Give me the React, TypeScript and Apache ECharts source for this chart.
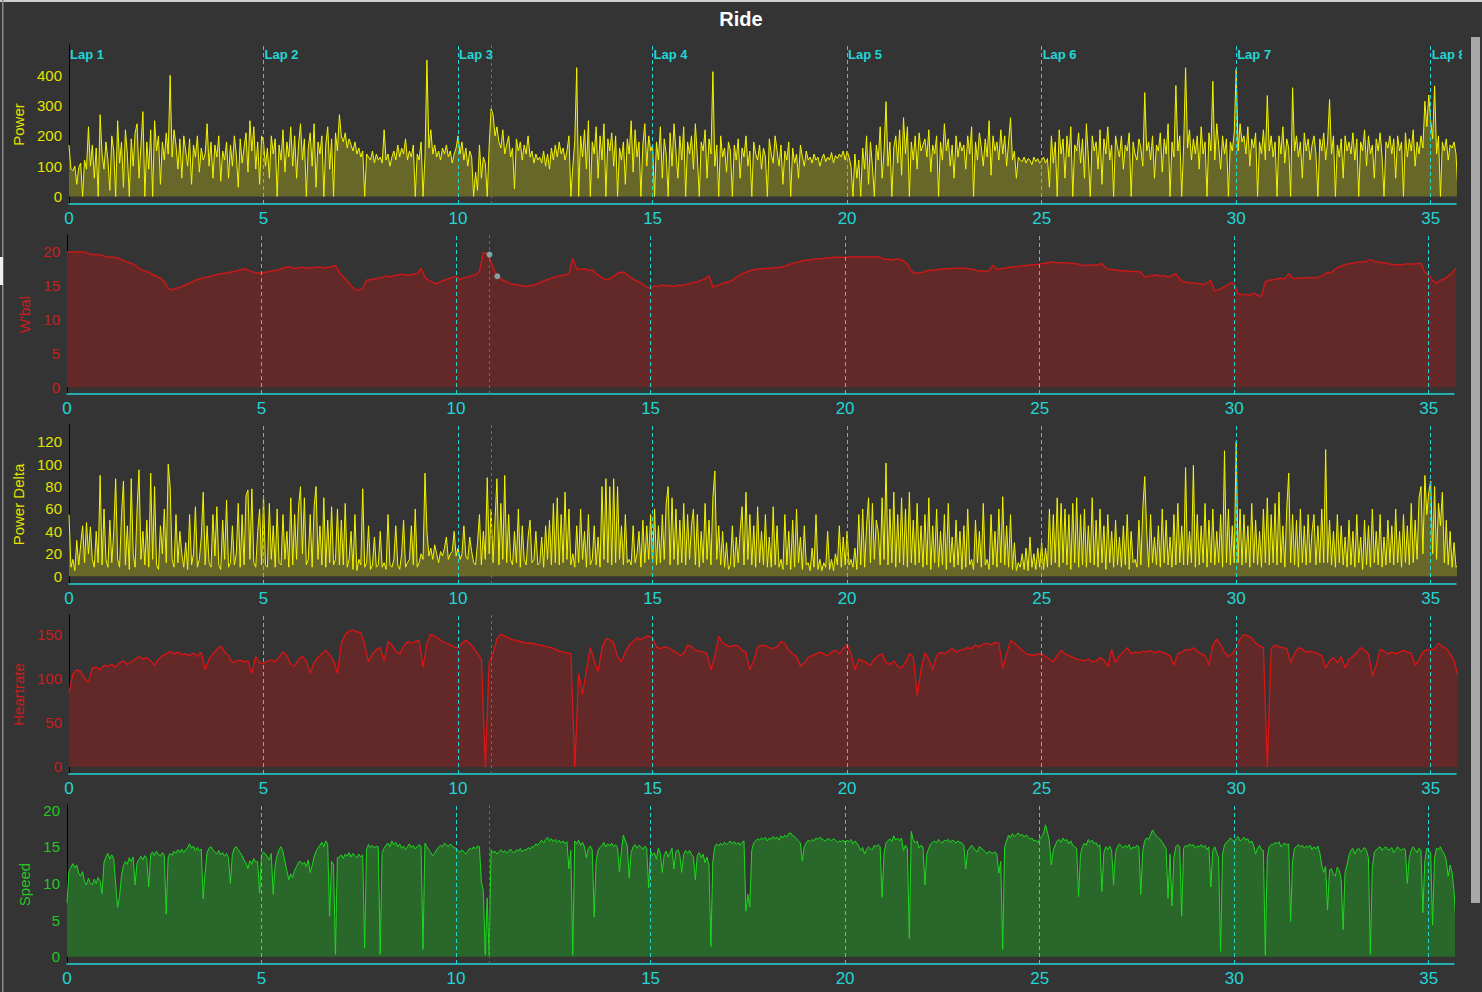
import React, { useEffect, useRef } from "react";
import * as echarts from "echarts";

// ---------- data ----------
const STEP_FINE = 0.05; // km between power / power-delta / speed samples
const STEP = 0.1; // km between W'bal / HR samples
const X_MAX = 35.65;
const X_INTERVAL = 5;
const LAPS = [0, 5, 10, 15, 20, 25, 30, 35];
const MARKER_KM = 10.86;
const WBAL_POINTS = [
  [10.86, 19.6],
  [11.06, 16.4],
];

const POWER = [
  170, 90, 85, 100, 40, 95, 110, 0, 120, 90, 230, 100, 170, 60, 160, 0, 270, 140, 90, 180,
  120, 20, 200, 150, 0, 250, 110, 180, 30, 220, 140, 0, 190, 100, 210, 240, 60, 170, 280, 0,
  180, 90, 220, 0, 250, 150, 200, 40, 180, 120, 210, 140, 400, 130, 220, 170, 90, 190, 60, 200,
  150, 100, 190, 40, 170, 130, 200, 80, 160, 120, 140, 240, 100, 180, 60, 170, 130, 200, 50, 150,
  120, 180, 60, 170, 100, 200, 140, 30, 190, 110, 160, 210, 80, 250, 150, 230, 90, 180, 40, 200,
  180, 100, 160, 60, 200, 140, 190, 0, 170, 120, 220, 80, 180, 130, 230, 100, 200, 60, 170, 240,
  120, 190, 0, 160, 210, 100, 240, 30, 180, 140, 200, 0, 170, 230, 90, 190, 0, 210, 150, 270,
  200, 180, 210, 160, 190, 170, 150, 180, 140, 160, 130, 150, 0, 140, 130, 120, 150, 110, 140, 120,
  130, 110, 220, 120, 140, 100, 130, 150, 120, 170, 130, 160, 140, 190, 120, 150, 130, 170, 0, 140,
  120, 180, 0, 130, 450, 160, 220, 140, 170, 130, 150, 120, 160, 140, 170, 130, 150, 110, 140, 160,
  200, 140, 180, 120, 160, 100, 150, 130, 0, 80, 20, 170, 60, 130, 110, 0, 170, 290, 270, 200,
  230, 180, 160, 220, 140, 170, 200, 130, 160, 25, 190, 150, 180, 120, 170, 140, 200, 130, 150, 110,
  140, 120, 130, 110, 150, 100, 140, 90, 160, 120, 170, 130, 180, 140, 160, 120, 150, 200, 0, 100,
  180, 425, 0, 200, 130, 220, 90, 250, 0, 180, 140, 230, 60, 200, 120, 240, 0, 190, 150, 210,
  100, 200, 0, 160, 120, 180, 40, 190, 140, 250, 80, 220, 130, 180, 0, 170, 240, 100, 200, 150,
  170, 0, 180, 120, 230, 60, 190, 140, 0, 210, 100, 240, 150, 60, 200, 120, 230, 0, 180, 140,
  200, 90, 240, 130, 0, 180, 150, 220, 60, 190, 140, 412, 100, 170, 0, 200, 130, 160, 80, 180,
  150, 0, 170, 120, 190, 60, 160, 130, 200, 100, 150, 0, 180, 140, 120, 170, 90, 160, 130, 0,
  190, 140, 110, 200, 150, 100, 170, 40, 150, 120, 180, 0, 160, 110, 140, 60, 170, 130, 100, 150,
  120, 130, 110, 140, 120, 130, 100, 125, 140, 115, 130, 120, 145, 110, 135, 125, 140, 130, 150, 120,
  150, 130, 100, 0, 140, 60, 120, 0, 160, 90, 200, 40, 180, 100, 0, 170, 120, 230, 60, 150,
  313, 100, 180, 0, 160, 200, 110, 220, 70, 260, 140, 230, 0, 180, 120, 200, 90, 210, 150, 170,
  190, 130, 220, 80, 170, 140, 200, 0, 180, 120, 240, 150, 190, 100, 170, 60, 200, 130, 180, 150,
  170, 90, 200, 140, 230, 0, 180, 120, 210, 160, 100, 190, 130, 250, 70, 200, 150, 180, 120, 220,
  140, 200, 100, 180, 260, 120, 150, 60, 130, 120, 115, 130, 110, 125, 120, 105, 130, 115, 125, 110,
  120, 130, 110, 125, 30, 200, 110, 180, 0, 220, 140, 190, 60, 200, 130, 230, 0, 170, 150, 210,
  110, 190, 60, 240, 130, 0, 200, 150, 180, 90, 220, 40, 190, 140, 230, 120, 170, 0, 200, 160,
  130, 200, 90, 170, 150, 210, 0, 180, 140, 120, 190, 160, 100, 343, 150, 180, 120, 200, 60, 170,
  150, 210, 80, 190, 140, 240, 0, 180, 130, 366, 150, 200, 0, 170, 425, 160, 220, 120, 190, 140,
  200, 90, 230, 140, 180, 0, 210, 150, 380, 120, 240, 170, 90, 200, 140, 190, 0, 180, 150, 210,
  420, 150, 240, 180, 200, 140, 230, 100, 190, 160, 210, 0, 180, 140, 220, 120, 333, 150, 200, 130,
  180, 0, 200, 140, 230, 110, 190, 160, 0, 359, 150, 200, 130, 180, 60, 210, 150, 190, 120, 170,
  200, 140, 0, 190, 150, 210, 120, 180, 320, 140, 200, 0, 170, 130, 190, 60, 200, 150, 180, 140,
  210, 120, 190, 0, 180, 150, 220, 100, 200, 140, 170, 60, 190, 150, 210, 130, 0, 180, 160, 200,
  140, 190, 60, 200, 150, 180, 0, 210, 130, 190, 150, 220, 100, 180, 140, 200, 160, 314, 230, 335,
  250, 190, 365, 140, 200, 0, 180, 150, 190, 120, 170, 160, 180, 140, 15,
];

const WBAL = [
  20.0, 20.0, 20.0, 20.0, 20.0, 19.9, 19.6, 19.6, 19.6, 19.5,
  19.3, 19.2, 19.2, 19.1, 18.9, 18.6, 18.4, 18.2, 17.8, 17.4,
  17.2, 17.0, 16.6, 16.4, 16.1, 15.6, 14.6, 14.4, 14.6, 14.8,
  15.0, 15.3, 15.5, 15.8, 16.0, 16.2, 16.3, 16.4, 16.6, 16.7,
  16.8, 16.9, 17.0, 17.1, 17.3, 17.4, 17.5, 17.2, 17.0, 16.9,
  16.9, 17.0, 17.1, 17.2, 17.3, 17.5, 17.7, 17.8, 17.6, 17.6,
  17.7, 17.7, 17.6, 17.7, 17.7, 17.8, 17.6, 17.7, 17.8, 18.0,
  17.0, 16.3, 15.7, 15.0, 14.5, 14.3, 14.6, 15.8, 15.9, 16.0,
  16.1, 16.2, 16.5, 16.3, 16.5, 16.6, 16.7, 16.6, 16.6, 16.7,
  16.8, 17.6, 16.2, 15.8, 15.5, 15.3, 15.6, 15.8, 16.0, 16.2,
  16.4, 15.9, 16.2, 16.3, 16.5, 16.6, 17.1, 19.9, 19.8, 18.5,
  17.0, 16.3, 15.8, 15.6, 15.3, 15.2, 15.1, 15.0, 14.9, 15.0,
  15.1, 15.3, 15.6, 15.8, 16.0, 16.2, 16.4, 16.5, 16.6, 16.8,
  19.0, 17.5, 17.4, 17.5, 17.3, 17.3, 16.8, 16.4, 16.0, 15.9,
  16.2, 16.6, 17.0, 17.0, 16.6, 16.2, 15.8, 15.6, 15.2, 14.8,
  14.6, 15.0, 14.9, 15.1, 15.0, 15.0, 14.9, 15.1, 15.0, 15.2,
  15.3, 15.5, 15.6, 15.8, 16.0, 16.5, 14.8, 15.0, 15.2, 15.4,
  15.6, 15.8, 16.2, 16.6, 16.9, 17.1, 17.3, 17.4, 17.5, 17.5,
  17.6, 17.6, 17.7, 17.7, 17.8, 18.0, 18.2, 18.4, 18.5, 18.7,
  18.8, 18.8, 18.9, 19.0, 19.0, 19.1, 19.1, 19.2, 19.2, 19.2,
  19.2, 19.2, 19.3, 19.3, 19.3, 19.2, 19.3, 19.3, 19.3, 19.2,
  18.9, 18.9, 18.8, 18.9, 18.9, 18.7, 18.2, 17.2, 16.8, 16.9,
  17.0, 17.2, 17.3, 17.3, 17.4, 17.5, 17.5, 17.5, 17.6, 17.6,
  17.6, 17.6, 17.5, 17.4, 17.2, 17.2, 17.1, 17.2, 18.0, 17.4,
  17.5, 17.6, 17.7, 17.8, 17.8, 17.9, 18.0, 18.0, 18.1, 18.1,
  18.2, 18.3, 18.4, 18.5, 18.4, 18.4, 18.4, 18.4, 18.3, 18.3,
  18.2, 18.0, 18.0, 18.1, 18.0, 18.1, 18.3, 17.6, 17.4, 17.4,
  17.3, 17.2, 17.2, 17.1, 17.1, 17.1, 17.0, 16.3, 16.4, 16.5,
  16.6, 16.4, 16.5, 16.3, 16.5, 16.8, 16.0, 15.5, 15.5, 15.4,
  15.4, 15.3, 15.2, 15.4, 15.8, 14.2, 14.4, 14.7, 15.0, 15.4,
  15.3, 13.8, 13.7, 13.7, 13.6, 13.9, 13.6, 13.4, 15.6, 15.8,
  15.9, 16.0, 16.1, 16.0, 16.8, 16.1, 16.1, 16.1, 16.2, 16.2,
  16.2, 16.2, 16.3, 16.6, 17.0, 16.9, 17.5, 17.8, 18.0, 18.2,
  18.3, 18.4, 18.5, 18.5, 18.6, 18.9, 18.6, 18.5, 18.4, 18.4,
  18.2, 18.1, 18.1, 18.1, 18.2, 18.2, 18.2, 18.3, 18.3, 17.0,
  16.6, 15.8, 15.4, 15.8, 16.0, 16.4, 16.9, 17.6,
];

const POWER_DELTA = [
  55, 8, 15, 5, 32, 10, 28, 45, 12, 48, 20, 44, 15, 8, 40, 12, 90, 10, 60, 15,
  8, 50, 12, 40, 87, 15, 8, 55, 85, 10, 45, 6, 87, 20, 8, 60, 95, 15, 40, 10,
  50, 8, 92, 15, 80, 10, 6, 45, 20, 60, 12, 100, 80, 15, 8, 55, 12, 40, 20, 8,
  30, 6, 55, 10, 20, 62, 8, 15, 35, 75, 10, 45, 12, 8, 55, 18, 62, 10, 6, 50,
  15, 68, 8, 12, 45, 10, 20, 65, 8, 55, 10, 72, 77, 15, 78, 12, 8, 40, 60, 10,
  72, 10, 8, 65, 15, 45, 8, 60, 12, 10, 55, 15, 40, 8, 70, 10, 55, 15, 62, 80,
  20, 70, 10, 15, 55, 8, 62, 80, 15, 45, 10, 70, 8, 50, 12, 62, 10, 15, 60, 10,
  50, 10, 65, 8, 15, 40, 6, 55, 5, 15, 10, 78, 8, 12, 45, 6, 10, 35, 8, 10,
  40, 8, 12, 6, 55, 10, 8, 15, 45, 10, 6, 20, 50, 8, 12, 15, 45, 10, 60, 8,
  12, 20, 15, 92, 40, 18, 25, 15, 28, 20, 12, 22, 18, 25, 35, 15, 20, 22, 40, 18,
  25, 15, 20, 45, 18, 15, 35, 22, 12, 10, 30, 55, 10, 40, 15, 88, 20, 60, 12, 50,
  87, 10, 65, 15, 90, 12, 55, 15, 10, 40, 12, 60, 8, 45, 15, 10, 35, 50, 12, 15,
  40, 10, 12, 35, 8, 45, 15, 50, 10, 65, 12, 70, 10, 55, 12, 75, 15, 60, 10, 20,
  8, 45, 12, 60, 15, 40, 8, 55, 10, 15, 45, 10, 35, 8, 80, 15, 87, 12, 80, 10,
  87, 12, 80, 15, 45, 10, 55, 12, 15, 10, 45, 12, 20, 40, 8, 50, 12, 45, 15, 55,
  12, 60, 10, 45, 12, 55, 15, 65, 80, 10, 70, 15, 60, 10, 50, 12, 65, 10, 55, 15,
  45, 60, 10, 55, 8, 40, 12, 65, 15, 50, 10, 70, 94, 15, 45, 10, 40, 8, 30, 6,
  10, 45, 8, 35, 12, 40, 62, 10, 75, 15, 55, 10, 45, 8, 62, 12, 40, 10, 55, 8,
  35, 8, 62, 10, 45, 8, 15, 6, 55, 10, 40, 6, 50, 8, 60, 12, 35, 6, 45, 10,
  12, 5, 25, 8, 55, 6, 15, 5, 12, 8, 40, 6, 15, 5, 20, 10, 45, 8, 35, 10,
  40, 10, 15, 8, 25, 6, 55, 10, 60, 8, 45, 70, 12, 65, 15, 50, 40, 10, 70, 15,
  101, 10, 60, 12, 75, 8, 55, 12, 70, 10, 60, 8, 75, 12, 50, 10, 65, 12, 45, 8,
  55, 10, 70, 6, 45, 12, 60, 8, 40, 10, 55, 6, 65, 12, 35, 8, 50, 10, 40, 6,
  45, 8, 60, 10, 15, 6, 50, 12, 40, 8, 65, 10, 15, 6, 55, 10, 40, 8, 60, 12,
  71, 10, 45, 8, 55, 6, 30, 5, 12, 8, 20, 6, 25, 5, 35, 8, 20, 6, 25, 8,
  30, 6, 25, 8, 60, 10, 55, 12, 70, 8, 65, 12, 60, 10, 55, 6, 65, 12, 70, 8,
  55, 10, 60, 8, 45, 12, 70, 10, 50, 8, 60, 12, 45, 6, 55, 12, 40, 8, 50, 10,
  35, 8, 45, 10, 55, 6, 40, 12, 15, 8, 50, 10, 60, 89, 40, 8, 55, 12, 35, 10,
  45, 8, 60, 12, 50, 10, 35, 8, 55, 10, 65, 12, 45, 10, 97, 10, 40, 12, 99, 8,
  55, 10, 45, 12, 65, 8, 50, 12, 60, 10, 40, 12, 55, 8, 112, 12, 60, 10, 45, 12,
  120, 12, 60, 10, 55, 12, 45, 8, 65, 12, 50, 10, 40, 8, 60, 12, 70, 10, 55, 12,
  65, 10, 75, 12, 45, 8, 60, 92, 12, 55, 10, 50, 8, 60, 12, 45, 10, 55, 12, 40,
  55, 10, 45, 12, 60, 12, 113, 12, 50, 10, 40, 8, 55, 12, 45, 10, 35, 8, 50, 10,
  40, 8, 55, 12, 35, 6, 50, 10, 45, 8, 60, 12, 40, 10, 55, 8, 35, 10, 50, 12,
  45, 10, 60, 12, 40, 8, 55, 12, 45, 10, 65, 12, 50, 15, 70, 80, 20, 90, 55, 75,
  85, 20, 80, 15, 65, 45, 75, 12, 50, 10, 40, 8, 30, 8, 10,
];

const HEARTRATE = [
  84, 105, 110, 108, 100, 96, 112, 113, 110, 115,
  114, 116, 113, 118, 120, 116, 119, 122, 125, 122,
  124, 120, 115, 122, 126, 128, 131, 128, 130, 127,
  128, 126, 129, 125, 130, 110, 122, 128, 133, 137,
  130, 126, 118, 120, 121, 119, 120, 106, 125, 118,
  117, 120, 121, 119, 124, 130, 126, 116, 114, 122,
  125, 120, 106, 118, 124, 128, 132, 127, 120, 106,
  140, 150, 154, 155, 153, 152, 138, 119, 128, 133,
  135, 120, 142, 138, 131, 128, 136, 142, 140, 142,
  143, 113, 140, 150, 148, 145, 142, 140, 138, 136,
  135, 140, 143, 140, 135, 128, 122, 0, 118, 128,
  145, 150, 148, 146, 144, 143, 142, 141, 140, 140,
  139, 138, 137, 136, 135, 133, 131, 130, 129, 128,
  0, 106, 82, 110, 135, 120, 108, 135, 145, 144,
  140, 125, 119, 130, 138, 142, 146, 144, 147, 148,
  146, 136, 134, 136, 135, 132, 130, 126, 128, 138,
  136, 132, 131, 130, 128, 110, 125, 148, 140, 138,
  136, 138, 137, 132, 130, 110, 120, 136, 138, 137,
  135, 134, 136, 142, 140, 132, 128, 125, 114, 118,
  124, 126, 128, 130, 128, 126, 130, 132, 128, 134,
  138, 128, 110, 122, 120, 118, 115, 122, 126, 128,
  118, 116, 120, 114, 112, 118, 128, 125, 81, 110,
  129, 122, 110, 126, 130, 128, 131, 134, 130, 132,
  133, 135, 134, 138, 136, 139, 140, 138, 141, 140,
  112, 128, 143, 140, 136, 132, 128, 127, 126, 128,
  127, 125, 122, 119, 126, 132, 128, 126, 124, 122,
  121, 120, 122, 119, 120, 124, 121, 114, 133, 118,
  126, 130, 135, 128, 130, 129, 131, 130, 132, 129,
  131, 130, 128, 126, 115, 128, 130, 133, 132, 135,
  131, 128, 126, 115, 138, 145, 138, 130, 125, 128,
  135, 145, 150, 148, 146, 140, 137, 135, 0, 134,
  138, 136, 135, 134, 118, 128, 135, 133, 130, 131,
  130, 128, 126, 112, 120, 124, 118, 125, 112, 122,
  125, 130, 135, 132, 128, 103, 115, 133, 131, 128,
  130, 128, 130, 132, 130, 129, 115, 122, 130, 133,
  132, 134, 140, 136, 134, 128, 120, 104,
];

const SPEED = [
  7.3, 11.6, 12.2, 12.7, 12.1, 12.5, 11.4, 11.0, 11.6, 10.2, 9.8, 10.7, 10.1, 9.8, 10.6, 10.0, 10.8, 10.3, 8.6, 12.8,
  13.6, 14.1, 13.3, 13.9, 13.4, 10.0, 6.7, 8.2, 11.0, 12.4, 13.0, 12.6, 13.5, 13.0, 13.6, 9.8, 12.8, 13.3, 13.7, 13.2,
  13.8, 13.4, 9.5, 13.9, 14.3, 13.8, 14.4, 14.0, 13.7, 14.2, 13.9, 5.8, 13.6, 14.1, 13.8, 14.4, 14.1, 14.6, 14.2, 14.7,
  14.2, 14.6, 14.9, 15.4, 14.8, 15.1, 14.5, 14.9, 14.4, 14.7, 7.9, 11.5, 14.2, 14.8, 15.0, 14.6, 14.3, 14.0, 14.5, 13.9,
  14.2, 13.7, 14.1, 13.5, 10.0, 13.9, 14.8, 15.0, 14.6, 14.2, 13.8, 13.2, 12.8, 12.0, 13.1, 12.6, 13.4, 12.9, 13.0, 8.7,
  13.9, 14.3, 14.0, 13.6, 13.2, 14.1, 8.5, 12.5, 13.8, 14.6, 15.0, 14.4, 13.0, 11.8, 10.5, 11.3, 10.8, 11.8, 12.3, 12.9,
  13.0, 12.6, 12.9, 12.3, 13.2, 11.5, 12.4, 13.6, 14.4, 14.8, 15.2, 15.6, 15.0, 15.8, 15.4, 5.5, 13.0, 12.6, 0.3, 13.5,
  13.6, 13.9, 13.4, 14.0, 13.7, 14.2, 13.6, 14.1, 13.8, 13.5, 14.0, 13.6, 13.9, 1.2, 14.6, 15.3, 14.9, 15.2, 14.8, 15.1,
  15.0, 0.3, 14.2, 14.8, 15.2, 15.5, 15.0, 15.8, 15.3, 15.6, 15.0, 15.4, 14.8, 15.1, 14.6, 15.0, 15.4, 14.9, 15.2, 14.7,
  15.0, 15.3, 15.1, 1.0, 15.5, 15.0, 14.6, 14.2, 13.8, 14.1, 14.6, 14.9, 15.2, 15.0, 15.5, 15.3, 15.0, 15.4, 15.1, 14.9,
  14.8, 14.5, 14.2, 14.6, 14.3, 14.0, 14.4, 14.8, 14.6, 15.0, 14.7, 15.1, 15.0, 10.2, 9.0, 0.2, 8.0, 0.2, 14.6, 14.2,
  14.4, 14.0, 14.3, 14.6, 14.2, 14.5, 14.1, 14.4, 14.7, 14.3, 14.2, 14.6, 14.4, 14.8, 14.3, 14.6, 14.5, 14.9, 14.7, 15.0,
  15.0, 15.4, 15.2, 15.6, 15.9, 15.5, 16.0, 16.3, 15.8, 16.1, 15.7, 16.0, 15.6, 15.9, 15.5, 15.8, 15.4, 15.7, 12.0, 14.5,
  0.2, 15.8, 15.4, 15.9, 15.2, 15.6, 15.0, 13.5, 14.8, 15.1, 14.6, 5.4, 13.0, 14.5, 14.9, 15.2, 15.6, 15.0, 15.4, 15.1,
  15.5, 15.0, 15.3, 14.9, 11.6, 14.5, 16.6, 15.8, 15.2, 10.7, 14.2, 15.0, 15.3, 14.8, 15.2, 15.0, 14.6, 15.1, 14.8, 9.4,
  14.5, 13.8, 14.2, 13.3, 14.8, 14.1, 11.5, 13.9, 14.4, 13.6, 14.2, 14.8, 12.0, 14.3, 14.6, 13.9, 11.5, 14.0, 14.5, 14.1,
  14.5, 14.0, 13.6, 10.5, 13.8, 14.2, 13.5, 14.0, 12.8, 13.6, 12.5, 1.4, 13.0, 15.0, 15.4, 15.1, 15.5, 15.2, 15.6, 15.3,
  15.5, 15.8, 15.4, 15.7, 15.3, 15.6, 15.2, 15.6, 15.8, 6.2, 8.5, 6.8, 14.5, 15.5, 15.8, 16.1, 15.9, 16.2, 16.0, 16.3,
  15.8, 16.2, 16.0, 16.4, 16.1, 16.3, 15.9, 16.5, 16.2, 16.6, 16.3, 16.8, 16.9, 16.5, 16.4, 16.1, 15.8, 15.5, 13.1, 15.0,
  15.5, 15.9, 15.7, 16.0, 15.8, 16.2, 16.0, 16.3, 16.1, 15.9, 15.8, 16.1, 16.0, 15.8, 16.1, 15.9, 15.6, 15.8, 15.7, 15.9,
  15.6, 15.9, 15.7, 16.0, 15.4, 15.8, 15.5, 15.1, 14.5, 14.9, 14.0, 14.6, 15.0, 14.7, 14.6, 15.2, 15.0, 15.3, 15.0, 8.1,
  14.0, 15.5, 15.8, 16.1, 15.7, 16.5, 15.9, 16.2, 15.8, 16.2, 14.5, 15.2, 14.8, 2.5, 17.1, 16.0, 15.5, 15.8, 14.8, 15.2,
  15.0, 9.8, 14.0, 14.8, 15.4, 15.6, 15.8, 15.5, 16.0, 15.7, 15.5, 15.9, 15.8, 16.0, 15.6, 15.9, 15.8, 15.5, 15.8, 15.6,
  15.5, 15.2, 12.0, 14.5, 14.8, 15.2, 14.9, 14.5, 14.3, 15.0, 14.8, 14.6, 14.3, 14.0, 14.4, 14.2, 14.1, 14.3, 14.0, 11.4,
  13.0, 1.0, 15.0, 15.8, 16.6, 16.2, 16.8, 16.4, 16.6, 16.9, 16.5, 16.7, 16.3, 16.6, 16.4, 16.0, 16.2, 15.8, 15.9, 15.6,
  16.0, 16.4, 16.8, 18.0, 17.0, 15.8, 12.5, 14.5, 15.2, 15.8, 16.0, 15.6, 16.2, 15.8, 16.0, 15.4, 15.8, 15.2, 15.0, 14.8,
  8.2, 14.0, 15.0, 15.5, 15.2, 16.0, 15.6, 15.9, 15.4, 15.6, 15.0, 15.3, 8.9, 14.2, 15.0, 14.6, 15.1, 14.5, 9.8, 14.2,
  15.0, 15.4, 15.1, 14.8, 15.2, 14.9, 15.3, 14.6, 15.0, 14.8, 15.2, 15.0, 8.5, 14.5, 15.8, 16.2, 16.0, 16.6, 17.3, 16.8,
  16.5, 16.2, 16.0, 15.6, 15.2, 14.8, 8.0, 14.0, 6.9, 13.5, 15.0, 15.3, 15.0, 5.5, 14.8, 15.2, 15.0, 15.4, 15.1, 15.3,
  14.8, 15.1, 15.0, 15.3, 14.9, 15.2, 14.6, 15.0, 9.5, 14.5, 15.0, 14.2, 13.5, 0.7, 14.0, 15.2, 15.6, 15.8, 16.2, 16.0,
  15.6, 16.1, 16.4, 15.8, 16.0, 16.3, 15.9, 16.1, 15.5, 15.8, 15.2, 14.0, 14.8, 15.2, 14.6, 14.5, 0.2, 13.5, 15.0, 15.3,
  15.3, 15.6, 15.4, 15.7, 15.0, 15.3, 15.5, 15.2, 15.4, 4.8, 13.0, 14.8, 15.0, 15.3, 15.0, 15.2, 14.8, 15.1, 14.9, 15.2,
  14.6, 15.0, 14.7, 15.1, 14.2, 12.5, 11.5, 12.3, 6.4, 11.8, 12.0, 11.2, 11.0, 12.2, 11.8, 10.5, 3.7, 11.5, 12.5, 13.8,
  14.5, 14.8, 14.0, 14.6, 14.8, 14.3, 14.6, 14.9, 14.5, 13.5, 0.3, 12.0, 14.2, 14.6, 14.8, 15.0, 14.5, 14.8, 15.0, 14.6,
  14.6, 14.9, 14.2, 14.6, 15.0, 14.7, 14.5, 14.8, 14.6, 10.0, 13.5, 14.5, 15.0, 14.6, 14.2, 14.8, 14.5, 6.0, 13.0, 14.8,
  14.5, 14.2, 4.3, 13.5, 14.8, 14.6, 15.0, 14.4, 14.0, 13.2, 11.0, 12.5, 11.5, 9.0, 4.6,
];

// ---------- styling ----------
const BG = "#343434";
const CYAN = "#22d6d6";
const FONT = '"Liberation Sans", Arial, sans-serif';

type Panel = {
  name: string;
  values: number[];
  step: number;
  left: number;
  top: number;
  min: number;
  max: number;
  labelEvery: number;
  labelMax: number;
  line: string;
  fill: string;
  label: string;
  nameGap: number;
  lineWidth: number;
};

const PANELS: Panel[] = [
  { name: "Power", values: POWER, step: STEP_FINE, left: 69, top: 45, min: -25, max: 500, labelEvery: 100, labelMax: 400, line: "#f4f400", fill: "#67672a", label: "#e2e200", nameGap: 36, lineWidth: 1 },
  { name: "W'bal", values: WBAL, step: STEP, left: 67, top: 235, min: -1, max: 22.5, labelEvery: 5, labelMax: 20, line: "#c81818", fill: "#632828", label: "#cc1c1c", nameGap: 34, lineWidth: 1.5 },
  { name: "Power Delta", values: POWER_DELTA, step: STEP_FINE, left: 69, top: 425, min: -7, max: 135, labelEvery: 20, labelMax: 120, line: "#f4f400", fill: "#67672a", label: "#e2e200", nameGap: 36, lineWidth: 1 },
  { name: "Heartrate", values: HEARTRATE, step: STEP, left: 69, top: 615, min: -8, max: 172, labelEvery: 50, labelMax: 150, line: "#dd1414", fill: "#632828", label: "#cc1c1c", nameGap: 36, lineWidth: 1.3 },
  { name: "Speed", values: SPEED, step: STEP_FINE, left: 67, top: 805, min: -1, max: 20.7, labelEvery: 5, labelMax: 20, line: "#1fd81f", fill: "#2a672a", label: "#22c822", nameGap: 35, lineWidth: 1 },
];

const GRID_W = 1387;
const GRID_H = 159;
const LABEL_GRID_W = 1393; // lap labels are clipped a little to the right of the plot

function buildOption() {
  const grid: any[] = PANELS.map((p) => ({ left: p.left, top: p.top, width: GRID_W, height: GRID_H }));
  grid.push({ left: PANELS[0].left, top: PANELS[0].top, width: LABEL_GRID_W, height: GRID_H });

  const xAxis: any[] = PANELS.map((p, i) => ({
    type: "value",
    gridIndex: i,
    min: 0,
    max: X_MAX,
    interval: X_INTERVAL,
    axisLine: { show: true, onZero: false, lineStyle: { color: CYAN, width: 1.5 } },
    axisTick: { show: false },
    splitLine: { show: false },
    axisLabel: {
      color: CYAN,
      fontSize: 17,
      fontFamily: FONT,
      margin: 6,
      formatter: (v: number) => (Math.abs(v % X_INTERVAL) < 1e-6 ? String(Math.round(v)) : ""),
    },
  }));
  xAxis.push({
    type: "value",
    gridIndex: PANELS.length,
    min: 0,
    max: (X_MAX * LABEL_GRID_W) / GRID_W,
    show: false,
  });

  const yAxis: any[] = PANELS.map((p, i) => ({
    type: "value",
    gridIndex: i,
    min: p.min,
    max: p.max,
    interval: 1,
    name: p.name,
    nameLocation: "middle",
    nameGap: p.nameGap,
    nameTextStyle: { color: p.label, fontSize: 15, fontFamily: FONT },
    axisLine: { show: true, onZero: false, lineStyle: { color: "#000000", width: 1 } },
    axisTick: { show: false },
    splitLine: { show: false },
    axisLabel: {
      color: p.label,
      fontSize: 15,
      fontFamily: FONT,
      margin: 7,
      formatter: (v: number) => {
        const r = Math.round(v);
        if (Math.abs(v - r) > 1e-6 || r < 0 || r > p.labelMax) return "";
        return r % p.labelEvery === 0 ? String(r) : "";
      },
    },
  }));
  yAxis.push({
    type: "value",
    gridIndex: PANELS.length,
    min: PANELS[0].min,
    max: PANELS[0].max,
    show: false,
  });

  const lapLines = LAPS.filter((d) => d > 0).map((d) => ({ xAxis: d }));
  const markerLine = {
    xAxis: MARKER_KM,
    lineStyle: { color: "#6a6a6a", type: [3, 3], width: 1 },
  };

  const series: any[] = PANELS.map((p, i) => ({
    type: "line",
    name: p.name,
    xAxisIndex: i,
    yAxisIndex: i,
    data: p.values.map((v, k) => [+(k * p.step).toFixed(3), v]),
    symbol: "none",
    showSymbol: false,
    lineStyle: { color: p.line, width: p.lineWidth },
    itemStyle: { color: p.line },
    areaStyle: { color: p.fill, opacity: 1 },
    silent: true,
    markLine: {
      silent: true,
      symbol: ["none", "none"],
      label: { show: false },
      lineStyle: { color: CYAN, type: [4, 3], width: 1 },
      data: [...lapLines, markerLine],
    },
  }));

  series.push({
    type: "scatter",
    xAxisIndex: 1,
    yAxisIndex: 1,
    data: WBAL_POINTS,
    symbolSize: 6,
    itemStyle: { color: "#80c4c4" },
    silent: true,
    z: 6,
  });

  series.push({
    type: "custom",
    xAxisIndex: PANELS.length,
    yAxisIndex: PANELS.length,
    clip: true,
    silent: true,
    z: 8,
    data: LAPS.map((d, i) => [d, i + 1]),
    renderItem: (params: any, api: any) => {
      const pt = api.coord([api.value(0), PANELS[0].max]);
      return {
        type: "text",
        x: pt[0] + 1,
        y: pt[1] + 9,
        style: {
          text: "Lap " + api.value(1),
          fill: CYAN,
          font: "bold 13px " + FONT,
          align: "left",
          verticalAlign: "middle",
        },
      };
    },
  });

  return {
    animation: false,
    backgroundColor: BG,
    title: {
      text: "Ride",
      left: "center",
      top: 4,
      textStyle: { color: "#ffffff", fontSize: 20, fontWeight: "bold", fontFamily: FONT },
    },
    grid,
    xAxis,
    yAxis,
    series,
    graphic: [
      { type: "rect", shape: { x: 0, y: 0, width: 1482, height: 2 }, style: { fill: "#cfcfcf" }, silent: true },
      { type: "rect", shape: { x: 2, y: 0, width: 1.5, height: 992 }, style: { fill: "#8a8a8a" }, silent: true },
      { type: "rect", shape: { x: 0, y: 257, width: 3, height: 28 }, style: { fill: "#f0f0f0" }, silent: true },
      { type: "rect", shape: { x: 1471, y: 37, width: 9, height: 866 }, style: { fill: "#a8a8a8" }, silent: true },
    ],
  };
}

export default function App() {
  const ref = useRef<HTMLDivElement>(null);
  useEffect(() => {
    if (!ref.current) return;
    const chart = echarts.init(ref.current, undefined, { renderer: "svg" });
    chart.setOption(buildOption() as any);
    return () => chart.dispose();
  }, []);
  return (
    <div
      ref={ref}
      style={{ position: "absolute", left: 0, top: 0, width: 1482, height: 992, background: BG }}
    />
  );
}
